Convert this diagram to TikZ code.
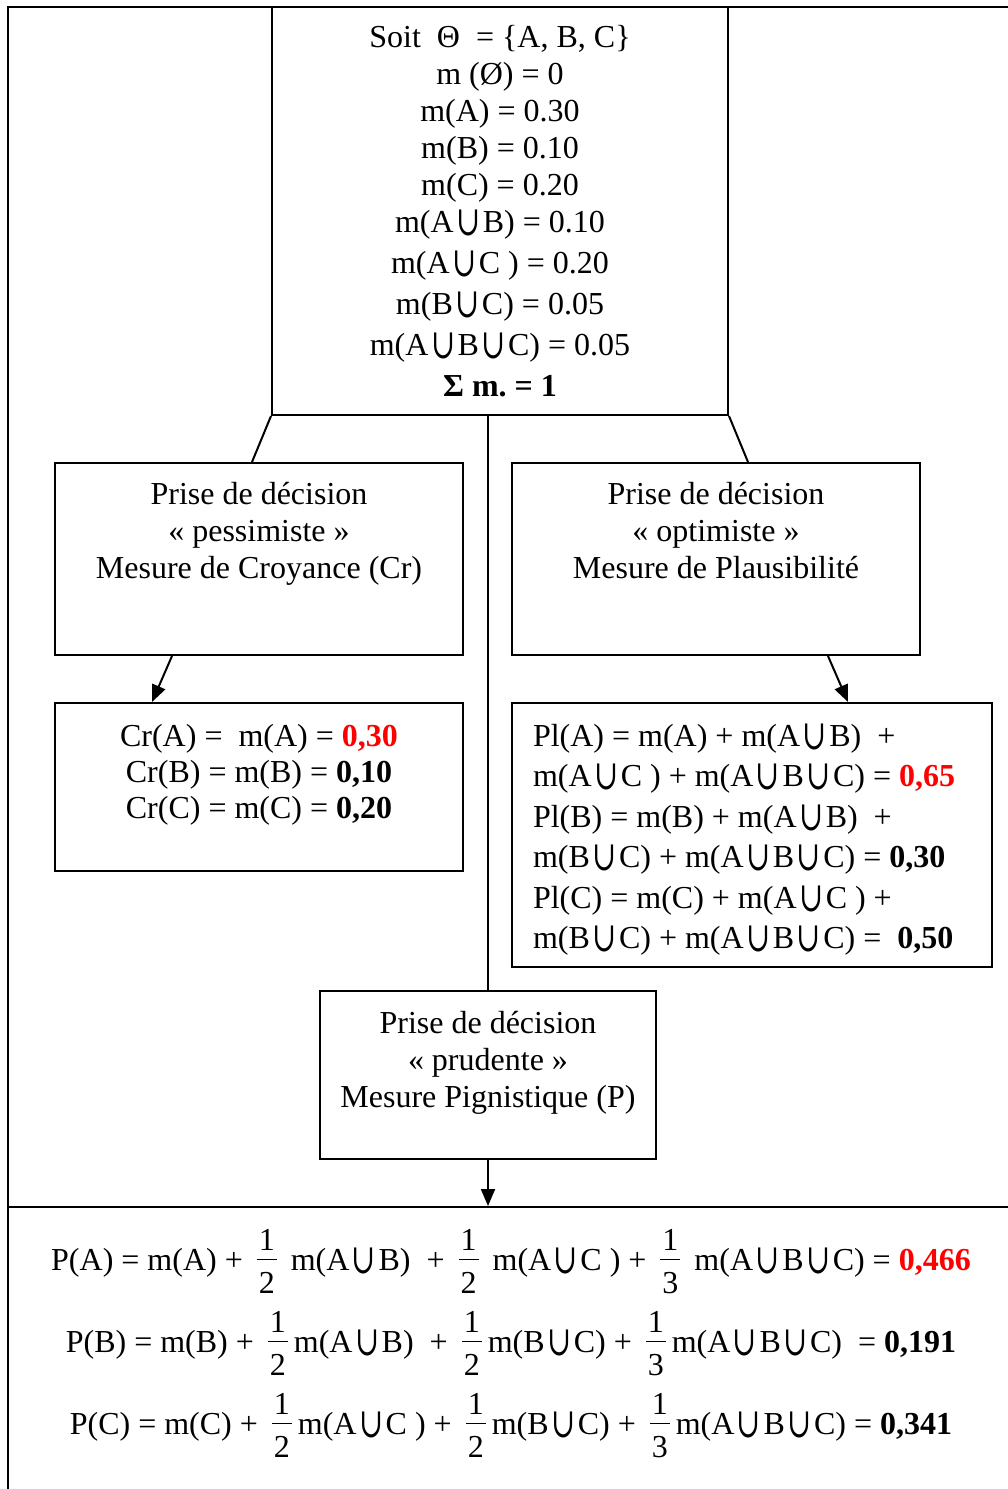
\documentclass[tikz,border=0pt]{standalone}
\usepackage{fontspec}
\usepackage{graphicx}
\setmainfont{Liberation Serif}
\newfontfamily\cupfont{DejaVu Serif}
\usetikzlibrary{arrows.meta}
\frenchspacing
\newcommand\ucup{\kern2.5pt\raisebox{-3pt}{\scalebox{0.9}[1.3]{\cupfont ∪}}\kern2.5pt}
\newcommand\frc[2]{\kern6pt\raisebox{-23pt}{\vbox{\baselineskip=0pt\lineskip=0pt\lineskiplimit=0pt
  \hbox to 20pt{\hss#1\hss}\kern8pt\hrule height 1.5pt\kern11.5pt\hbox to 20pt{\hss#2\hss}}}\kern6pt}
\newcommand\resval[1]{\textcolor{red}{\textbf{#1}}}
\begin{document}
\begin{tikzpicture}[x=1pt, y=-1pt, line width=2pt,
    box/.style={draw, rectangle, inner sep=0pt},
    txt/.style={inner sep=0pt, align=center, font=\fontsize{32}{37}\selectfont},
    arr/.style={-{Triangle[length=17pt,width=14pt]}}]
  \useasboundingbox (0,0) rectangle (1008,1489);
  \draw[line width=2.5pt] (1030,7) -- (8,7) -- (8,1500);
  \node[box, txt, minimum width=456pt, minimum height=408pt] (top) at (500,211)
    {Soit~~Θ~ = \{A, B, C\}\\
     m (Ø) = 0\\
     m(A) = 0.30\\
     m(B) = 0.10\\
     m(C) = 0.20\\
     m(A\ucup B) = 0.10\\[4pt]
     m(A\ucup C~) = 0.20\\[4pt]
     m(B\ucup C) = 0.05\\[4pt]
     m(A\ucup B\ucup C) = 0.05\\[4pt]
     \textbf{Σ m. = 1}};
  \node[box, minimum width=408pt, minimum height=192pt] (pess) at (259,559) {};
  \node[txt, anchor=north] (pesstext) at (259,481)
    {Prise de décision\\«~pessimiste~»\\Mesure de Croyance (Cr)};
  \node[box, minimum width=408pt, minimum height=192pt] (opt) at (716,559) {};
  \node[txt, anchor=north] (opttext) at (716,481)
    {Prise de décision\\«~optimiste~»\\Mesure de Plausibilité};
  \node[box, minimum width=408pt, minimum height=168pt] (cr) at (259,787) {};
  \node[txt, anchor=north, font=\fontsize{32}{36}\selectfont] (crtext) at (259,723)
    {Cr(A) =~~m(A) = \resval{0,30}\\
     Cr(B) = m(B) = \textbf{0,10}\\
     Cr(C) = m(C) = \textbf{0,20}};
  \node[box, minimum width=480pt, minimum height=264pt] (pl) at (752,835) {};
  \node[txt, anchor=north west, align=left, font=\fontsize{32}{40.4}\selectfont] (pltext) at (532,723)
    {Pl(A) = m(A) + m(A\ucup B)~~+\\
     m(A\ucup C~) + m(A\ucup B\ucup C) = \resval{0,65}\\
     Pl(B) = m(B) + m(A\ucup B)~~+\\
     m(B\ucup C) + m(A\ucup B\ucup C) = \textbf{0,30}\\
     Pl(C) = m(C) + m(A\ucup C~) +\\
     m(B\ucup C) + m(A\ucup B\ucup C) =~~\textbf{0,50}};
  \node[box, minimum width=336pt, minimum height=168pt] (prud) at (488,1075) {};
  \node[txt, anchor=north] (prudtext) at (488,1010)
    {Prise de décision\\«~prudente~»\\Mesure Pignistique (P)};
  \node[box, minimum width=1022pt, minimum height=300pt] (res) at (519,1357) {};
  \node[txt, anchor=base] (pa) at (511,1270)
    {P(A) = m(A) + \frc12~m(A\ucup B)~~+ \frc12~m(A\ucup C~) + \frc13~m(A\ucup B\ucup C) = \resval{0,466}};
  \node[txt, anchor=base] (pb) at (511,1352)
    {P(B) = m(B) + \frc12m(A\ucup B)~~+ \frc12m(B\ucup C) + \frc13m(A\ucup B\ucup C)~~= \textbf{0,191}};
  \node[txt, anchor=base] (pc) at (511,1434)
    {P(C) = m(C) + \frc12m(A\ucup C~) + \frc12m(B\ucup C) + \frc13m(A\ucup B\ucup C) = \textbf{0,341}};
  \draw (top.south west) -- ([xshift=-7pt]pess.north);
  \draw (top.south east) -- ([xshift=32pt]opt.north);
  \draw (top.south -| prud.north) -- (prud.north);
  \draw[arr] ([xshift=-87pt]pess.south) -- ([xshift=-107pt]cr.north);
  \draw[arr] ([xshift=112pt]opt.south) -- ([xshift=96pt]pl.north);
  \draw[arr] (prud.south) -- (prud.south |- res.north);
\end{tikzpicture}
\end{document}
